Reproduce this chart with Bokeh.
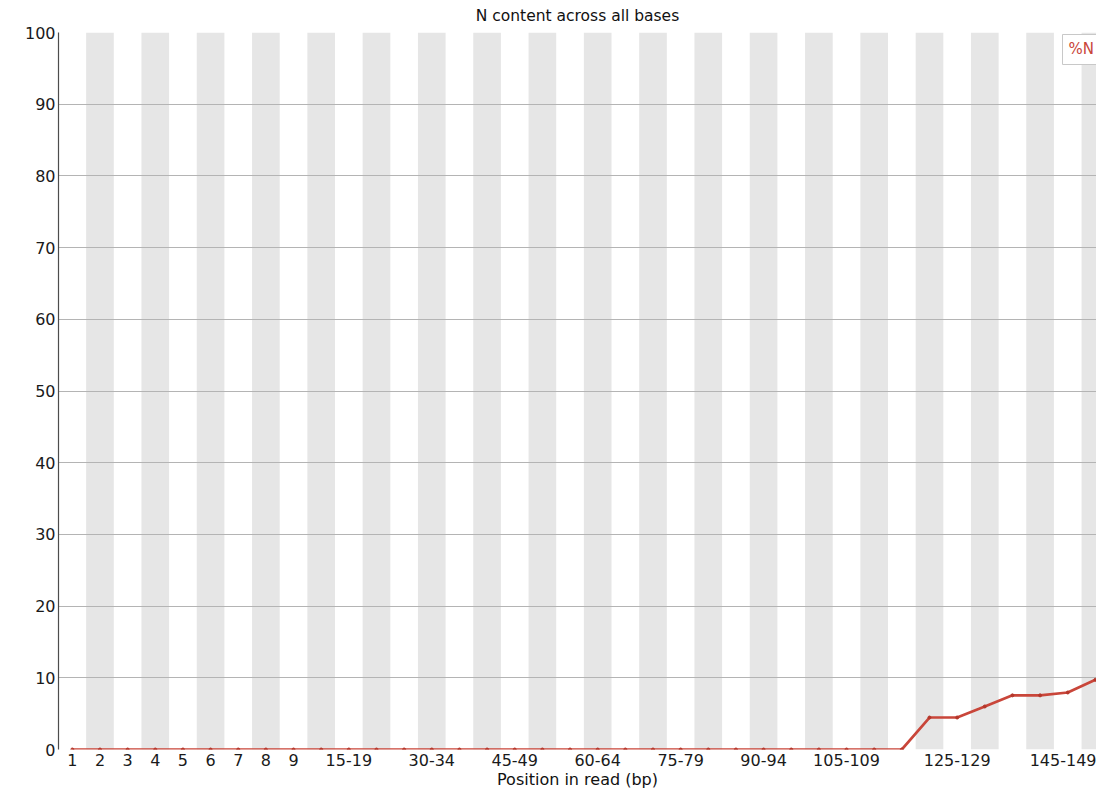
from bokeh.plotting import figure
from bokeh.models import FixedTicker, Label, ColumnDataSource
from bokeh.embed import file_html
from bokeh.resources import INLINE

# ---- data -------------------------------------------------------------
categories = ["1", "2", "3", "4", "5", "6", "7", "8", "9",
              "10-14", "15-19", "20-24", "25-29", "30-34", "35-39", "40-44",
              "45-49", "50-54", "55-59", "60-64", "65-69", "70-74", "75-79",
              "80-84", "85-89", "90-94", "95-99", "100-104", "105-109",
              "110-114", "115-119", "120-124", "125-129", "130-134",
              "135-139", "140-144", "145-149", "150-151"]

n_percent = [0.0, 0.0, 0.0, 0.0, 0.0, 0.0, 0.0, 0.0, 0.0,
             0.0, 0.0, 0.0, 0.0, 0.0, 0.0, 0.0,
             0.0, 0.0, 0.0, 0.0, 0.0, 0.0, 0.0,
             0.0, 0.0, 0.0, 0.0, 0.0, 0.0,
             0.0, 0.0, 4.46, 4.46, 6.0,
             7.55, 7.55, 7.95, 9.72]

shown_x_labels = ["1", "2", "3", "4", "5", "6", "7", "8", "9",
                  "15-19", "30-34", "45-49", "60-64", "75-79", "90-94",
                  "105-109", "125-129", "145-149"]

y_ticks = [0, 10, 20, 30, 40, 50, 60, 70, 80, 90, 100]

title_text = "N content across all bases"
x_title = "Position in read (bp)"
series_name = "%N"

# ---- style ------------------------------------------------------------
FONT = "DejaVu Sans"
RED = "#c9463a"
STRIPE = "#e6e6e6"
GRID = "#b4b4b4"
TEXT = "#1a1a1a"

xpos = [i + 0.5 for i in range(len(categories))]

p = figure(width=1096, height=792, output_backend="svg", toolbar_location=None,
           x_range=(0, 37.54), y_range=(0, 100),
           min_border_left=58, min_border_right=0,
           min_border_top=32, min_border_bottom=43,
           title=title_text)
p.outline_line_color = None
p.background_fill_color = "white"
p.border_fill_color = "white"

p.title.align = "center"
p.title.vertical_align = "top"
p.title.standoff = 11
p.title.text_font = FONT
p.title.text_font_size = "15.5px"
p.title.text_font_style = "normal"
p.title.text_color = "#111111"

# alternating stripes (odd categories)
stripe_x = [xpos[i] for i in range(len(categories)) if i % 2 == 1]
p.vbar(x=stripe_x, width=1, top=100, bottom=0, fill_color=STRIPE,
       line_color=None, level="image")

# grid
p.xgrid.visible = False
p.ygrid.ticker = FixedTicker(ticks=y_ticks)
p.ygrid.grid_line_color = GRID
p.ygrid.grid_line_width = 1

# series
src = ColumnDataSource(dict(x=xpos, y=n_percent))
p.line("x", "y", source=src, line_color=RED, line_width=2.7)
p.scatter("x", "y", source=src, size=3, color="#b5372b")

# x axis
label_pos = [xpos[categories.index(c)] for c in shown_x_labels]
p.xaxis.ticker = FixedTicker(ticks=label_pos)
p.xaxis.major_label_overrides = {pos: lab for pos, lab in zip(label_pos, shown_x_labels)}
p.xaxis.axis_line_color = None
p.xaxis.major_tick_line_color = None
p.xaxis.minor_tick_line_color = None
p.xaxis.major_tick_out = 0
p.xaxis.major_tick_in = 0
p.xaxis.minor_tick_out = 0
p.xaxis.major_label_standoff = 4
p.xaxis.major_label_text_font = FONT
p.xaxis.major_label_text_font_size = "16px"
p.xaxis.major_label_text_color = TEXT
p.xaxis.axis_label = x_title
p.xaxis.axis_label_standoff = 1
p.xaxis.axis_label_text_font = FONT
p.xaxis.axis_label_text_font_size = "16px"
p.xaxis.axis_label_text_font_style = "normal"
p.xaxis.axis_label_text_color = "#111111"

# y axis
p.yaxis.ticker = FixedTicker(ticks=y_ticks)
p.yaxis.axis_line_color = "#4d4d4d"
p.yaxis.axis_line_width = 1.2
p.yaxis.major_tick_line_color = None
p.yaxis.minor_tick_line_color = None
p.yaxis.major_tick_out = 0
p.yaxis.major_tick_in = 0
p.yaxis.minor_tick_out = 0
p.yaxis.major_label_standoff = 3
p.yaxis.major_label_text_font = FONT
p.yaxis.major_label_text_font_size = "16px"
p.yaxis.major_label_text_color = TEXT

# legend box (top right, inside the plot)
p.add_layout(Label(x=36.31, y=97.63, text=series_name, text_align="left",
                   text_baseline="middle", text_font=FONT, text_font_size="15px",
                   text_color=RED, background_fill_color="white",
                   border_line_color="#c8c8c8", padding=6))

open("out.html", "w").write(file_html(p, INLINE))
